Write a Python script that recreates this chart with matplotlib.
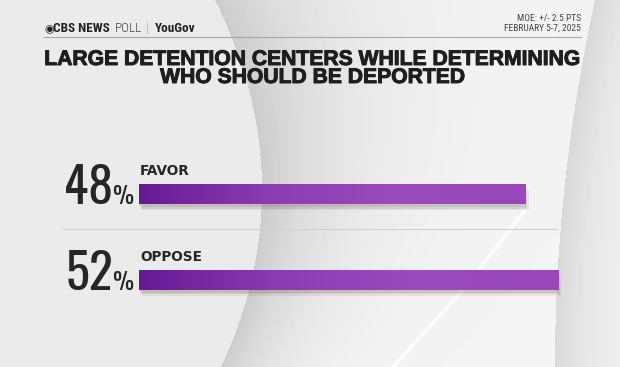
import numpy as np
import matplotlib.pyplot as plt
import matplotlib.patheffects as pe
from matplotlib.colors import LinearSegmentedColormap

# data
categories = ['FAVOR', 'OPPOSE']
values = [48, 52]
title_lines = ['LARGE DETENTION CENTERS WHILE DETERMINING', 'WHO SHOULD BE DEPORTED']
moe_lines = ['MOE: +/- 2.5 PTS', 'FEBRUARY 5-7, 2025']

W, H = 620, 367
fig = plt.figure(figsize=(W / 100, H / 100), dpi=100)

# fonts (lists so a missing family falls through)
num_font = ['Oswald', 'Roboto Condensed', 'DejaVu Sans']
cond_font = ['Roboto Condensed', 'DejaVu Sans']
head_font = ['Liberation Sans', 'DejaVu Sans']

# background with the grey swoosh
bg = fig.add_axes([0, 0, 1, 1])
yy, xx = np.mgrid[0:H, 0:W] + 0.5
t = (yy - 190) / 190
xl = 262 - 47 * t ** 2
wid = 55 + 55 * (1 - yy / H)
d = xx - xl
img = np.full((H, W), 0.92)
inside = d > 0
img[inside] = (0.80 + 0.16 * (1 - np.exp(-d / wid)))[inside]
xr = 555 + 40 * ((yy - H) / H) ** 2
dr = xx - xr
img = np.where(dr > 0, img - 0.11 * np.exp(-dr / 45), img)
bg.imshow(img, cmap='gray', vmin=0, vmax=1, extent=(0, W, H, 0),
          aspect='auto', interpolation='bilinear')
bg.plot([393, 463, 525], [367, 290, 210], color='white', lw=2.5, alpha=0.85,
        solid_capstyle='round')
bg.plot([44, 581], [37, 37], color='#a8a8a8', lw=0.8)
bg.plot([63, 557], [229, 229], color='#d0d0d0', lw=0.8)
bg.set_xlim(0, W)
bg.set_ylim(H, 0)
bg.axis('off')

# header
bg.text(44, 32, '◉', fontfamily='DejaVu Sans', fontsize=8, color='#222222')
bg.text(53, 32, 'CBS NEWS', fontfamily=cond_font, fontweight='bold', fontsize=9.5, color='#222222')
bg.text(115, 32, 'POLL', fontfamily=cond_font, fontweight='light', fontsize=9.5, color='#444444')
bg.text(146, 32, '|', fontfamily=cond_font, fontsize=9, color='#bbbbbb')
bg.text(155, 32, 'YouGov', fontfamily=cond_font, fontweight='bold', fontsize=9.5, color='#222222')
bg.text(581, 21, moe_lines[0], ha='right', fontfamily=cond_font, fontsize=6.8, color='#444444')
bg.text(581, 31, moe_lines[1], ha='right', fontfamily=cond_font, fontsize=6.8, color='#444444')

# title
for k, line in enumerate(title_lines):
    bg.text(312.5, 65 + 18 * k, line, ha='center', va='baseline', fontsize=15.2,
            fontfamily=head_font, fontweight='bold', color='#1e1e1e',
            path_effects=[pe.withStroke(linewidth=0.7, foreground='#1e1e1e')])

# bars
ax = fig.add_axes([139 / W, (H - 310) / H, 442 / W, 160 / H])
ypos = np.arange(len(values))
h = 0.234
for k, a in enumerate([0.10, 0.10, 0.08]):
    ax.barh(ypos + 0.03 + 0.02 * k, values, height=h, left=0.2 * k, color='#444444', alpha=a, lw=0)
bars = ax.barh(ypos, values, height=h, color='#7d2fa8', lw=0)
cmap = LinearSegmentedColormap.from_list('p', ['#661a96', '#8a3cb1', '#9a4bbd', '#9848bb'])
grad = np.linspace(0, 1, 256).reshape(1, -1)
for b in bars:
    x0, y0 = b.get_x(), b.get_y()
    im = ax.imshow(grad, cmap=cmap, extent=(x0, x0 + b.get_width(), y0 + b.get_height(), y0),
                   aspect='auto', interpolation='bilinear', zorder=3)
    im.set_clip_path(b)

for i, (cat, v) in enumerate(zip(categories, values)):
    ax.annotate(f'{v}', xy=(0, i + h / 2), xytext=(-26, 0), textcoords='offset pixels',
                ha='right', va='baseline', fontsize=36, fontfamily=num_font,
                fontweight='bold', color='#262626', annotation_clip=False)
    ax.annotate('%', xy=(0, i + h / 2), xytext=(-6, 0), textcoords='offset pixels',
                ha='right', va='baseline', fontsize=17, fontfamily=num_font,
                fontweight='bold', color='#262626', annotation_clip=False)
    ax.annotate(cat, xy=(0, i - h / 2), xytext=(1, 9), textcoords='offset pixels',
                ha='left', va='baseline', fontsize=9.8, fontfamily='DejaVu Sans',
                fontweight='bold', color='#262626', annotation_clip=False)

ax.set_xlim(0, 442 / 8.06)
ax.set_ylim(1.351, -0.52)
ax.axis('off')

fig.savefig('out.png', dpi=100)
